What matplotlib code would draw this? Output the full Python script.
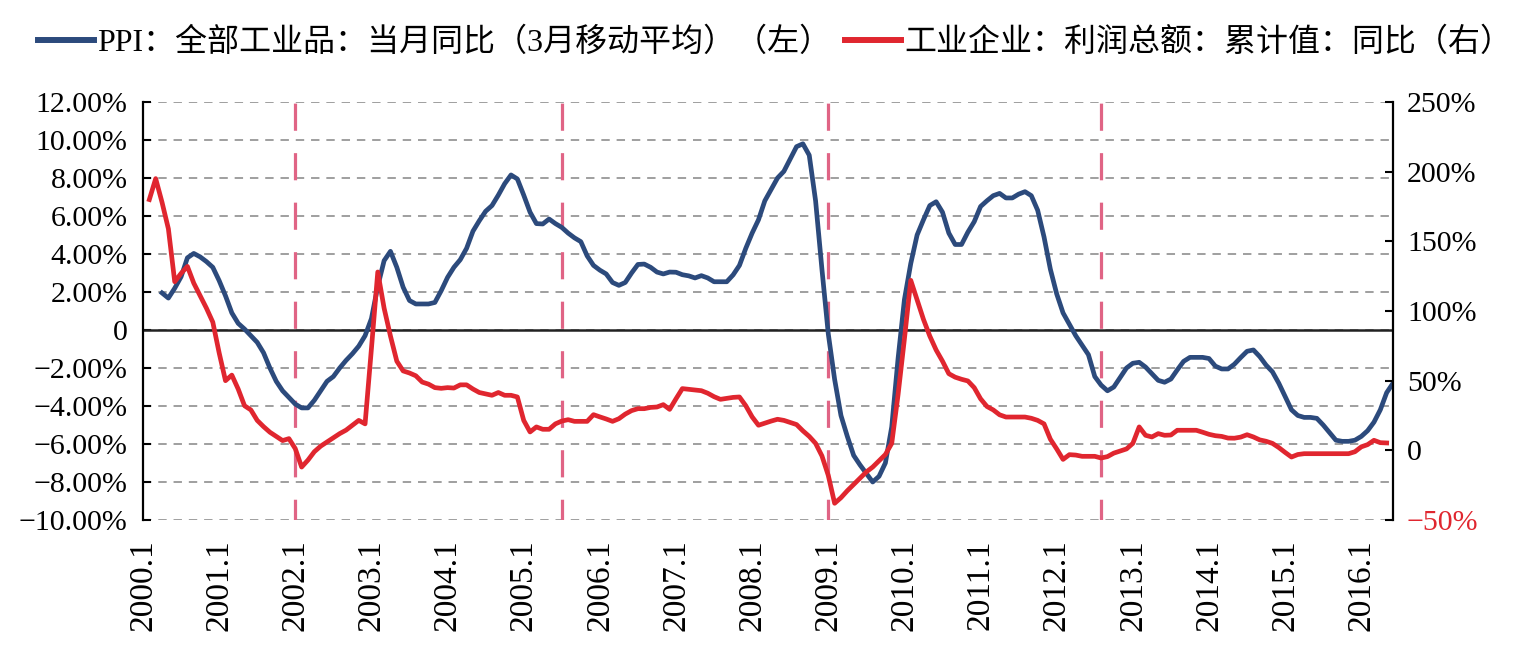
import numpy as np
import pandas as pd
import matplotlib
matplotlib.use('Agg')
import matplotlib.pyplot as plt
from matplotlib.font_manager import FontProperties

plt.rcParams['font.family'] = ['Liberation Serif', 'Noto Sans CJK SC']

# monthly category axis 2000.1 - 2016.6
months = pd.period_range('2000-01', '2016-06', freq='M')
month_labels = [f'{p.year}.{p.month}' for p in months]

# PPI 3-month moving average, % (left axis), from 2000.4
ppi_start = '2000.4'
ppi_ma3 = [
    1.95, 1.68, 2.2, 2.8, 3.8, 4.03, 3.85, 3.6, 3.3,
    2.6, 1.8, 0.9, 0.35, 0.05, -0.3, -0.65, -1.2, -2.0, -2.7, -3.2, -3.55,
    -3.9, -4.1, -4.1, -3.7, -3.2, -2.7, -2.45, -2.0, -1.6, -1.25, -0.85, -0.3,
    0.6, 2.3, 3.65, 4.14, 3.3, 2.25, 1.55, 1.37, 1.37, 1.37, 1.45, 2.07,
    2.77, 3.3, 3.7, 4.3, 5.2, 5.75, 6.25, 6.55, 7.1, 7.7, 8.16, 7.95,
    7.1, 6.2, 5.6, 5.58, 5.84, 5.6, 5.4, 5.1, 4.85, 4.65, 3.9, 3.4,
    3.15, 2.95, 2.5, 2.35, 2.5, 3.0, 3.45, 3.47, 3.3, 3.05, 2.95, 3.05,
    3.04, 2.91, 2.85, 2.74, 2.86, 2.74, 2.54, 2.54, 2.54, 2.9, 3.4, 4.3,
    5.1, 5.8, 6.8, 7.4, 8.0, 8.35, 9.0, 9.65, 9.8, 9.2, 6.8, 3.2,
    -0.2, -2.6, -4.5, -5.6, -6.6, -7.1, -7.55, -8.0, -7.7, -7.0, -5.1, -1.5,
    1.6, 3.5, 5.0, 5.8, 6.55, 6.75, 6.2, 5.1, 4.5, 4.5, 5.15, 5.7,
    6.5, 6.8, 7.07, 7.19, 6.95, 6.95, 7.15, 7.28, 7.07, 6.3, 4.9, 3.2,
    1.9, 0.9, 0.3, -0.3, -0.8, -1.3, -2.45, -2.9, -3.2, -3.0, -2.5, -2.0,
    -1.75, -1.7, -1.95, -2.3, -2.65, -2.75, -2.58, -2.1, -1.65, -1.44, -1.44, -1.44,
    -1.5, -1.9, -2.05, -2.05, -1.8, -1.45, -1.12, -1.05, -1.4, -1.85, -2.2, -2.8,
    -3.5, -4.2, -4.5, -4.6, -4.6, -4.65, -5.0, -5.4, -5.8, -5.86, -5.86, -5.8,
    -5.6, -5.3, -4.85, -4.2, -3.3, -2.8,
]

# industrial profit, cumulative yoy, % (right axis), from 2000.2
profit_start = '2000.2'
profit_yoy = [
    180, 195, 178, 159, 121, 127, 132, 120, 111, 102, 92,
    70, 50, 54, 44, 32, 29, 21.5, 17, 13, 10, 7, 8.4,
    1.2, -12, -7, -1, 3, 6, 9, 12, 14.5, 18, 21.5, 19,
    73, 128, 102, 82, 64, 57, 55.5, 53.5, 49, 47.5, 45, 44.5,
    45, 44.7, 47, 47, 44, 41.5, 40.5, 39.5, 41.5, 39.5, 39.5, 38.3,
    21.5, 13.2, 16.8, 15.1, 15.1, 19, 21, 22, 20.8, 20.8, 20.8, 25.6,
    24, 22.5, 20.8, 22.7, 26, 28.5, 29.9, 29.9, 30.8, 31.1, 32.8, 29.4,
    37, 44.3, 43.8, 43.3, 42.8, 41, 38.5, 36.6, 37.3, 38, 38.3, 32,
    24, 18, 19.5, 21, 22.3, 21.5, 20, 18.5, 14, 10, 5, -4,
    -18, -38, -34, -29, -24.5, -20, -15.5, -12, -7.5, -3, 5, 40,
    80, 122, 108, 94, 82, 72, 64, 55, 52.5, 51, 49.8, 45,
    37, 31.5, 29, 25.5, 23.9, 23.9, 23.9, 23.9, 23, 21.5, 19, 8,
    1, -6.5, -3.1, -3.4, -4.3, -4.3, -4.3, -5.5, -4.5, -2, -0.5, 1,
    5, 16.8, 10.8, 9.6, 12, 10.8, 11, 14.4, 14.4, 14.4, 14.4, 13,
    11.5, 10.5, 10, 8.8, 8.7, 9.5, 11.2, 9.6, 7.5, 6.5, 5, 2,
    -1.5, -4.8, -3.0, -2.4, -2.4, -2.4, -2.4, -2.4, -2.4, -2.4, -2.4, -1,
    2.5, 4.1, 7.2, 5.5, 5.3,
]

event_months = ['2002.1', '2005.7', '2009.1', '2012.8']

left_ticks = np.arange(-10, 13, 2)
left_labels = ['0' if v == 0 else f'{v:.2f}%'.replace('-', '\u2212') for v in left_ticks]
right_ticks = np.arange(-50, 251, 50)
right_labels = ['0' if v == 0 else f'{v}%'.replace('-', '\u2212') for v in right_ticks]

legend_labels = ['PPI：全部工业品：当月同比（3月移动平均）（左）',
                 '工业企业：利润总额：累计值：同比（右）']

BLUE = '#2c4a7c'
RED = '#e0262f'
PINK = '#e06485'

x = np.arange(len(months))
ppi = pd.Series(ppi_ma3, index=month_labels[month_labels.index(ppi_start):][:len(ppi_ma3)])
profit = pd.Series(profit_yoy, index=month_labels[month_labels.index(profit_start):][:len(profit_yoy)])
pos = {m: i for i, m in enumerate(month_labels)}

fig = plt.figure(figsize=(15.23, 6.5), dpi=100)
ax = fig.add_axes([143 / 1523, 130 / 650, 1250 / 1523, 418 / 650])
ax2 = ax.twinx()

# grid + zero line
ax.set_ylim(-10, 12)
ax.set_xlim(0, len(months) - 1)
ax.yaxis.grid(True, color='#858585', lw=1.1, ls=(0, (5.5, 4.5)))
ax.set_axisbelow(True)
ax.axhline(0, color='#222222', lw=1.8, zorder=2)

for m in event_months:
    ax.axvline(pos[m], color=PINK, lw=2.3, ls=(2, (8.5, 7)), zorder=3)

l1, = ax.plot([pos[m] for m in ppi.index], ppi.values, color=BLUE, lw=3.4, zorder=4,
              solid_joinstyle='round')
l2, = ax2.plot([pos[m] for m in profit.index], profit.values, color=RED, lw=3.4, zorder=4,
               solid_joinstyle='round')

ax.set_yticks(left_ticks, left_labels)
ax2.set_ylim(-50, 250)
ax2.set_yticks(right_ticks, right_labels)
ax2.get_yticklabels()[0].set_color(RED)

ax.set_xticks(x[::12], month_labels[::12], rotation=90)

for a in (ax, ax2):
    a.spines['top'].set_visible(False)
    a.spines['bottom'].set_visible(False)
ax2.spines['left'].set_visible(False)
ax.spines['right'].set_visible(False)
ax.spines['left'].set_linewidth(1.6)
ax2.spines['right'].set_linewidth(1.6)

ax.tick_params(axis='y', direction='in', length=6, width=1.5, pad=11, labelsize=21.5)
ax2.tick_params(axis='y', direction='in', length=6, width=1.5, pad=10, labelsize=21.5)
ax.tick_params(axis='x', length=0, pad=14, labelsize=24)

leg = fig.legend([l1, l2], legend_labels, loc='center', bbox_to_anchor=(0.509, 1 - 43 / 650),
                 ncol=2, frameon=False,
                 prop=FontProperties(family=['Liberation Serif', 'Noto Sans CJK SC'], size=23),
                 handlelength=1.75, handletextpad=0.1, columnspacing=0.45)
for ln in leg.get_lines():
    ln.set_linewidth(4.3)

fig.savefig('out.png', dpi=100)
